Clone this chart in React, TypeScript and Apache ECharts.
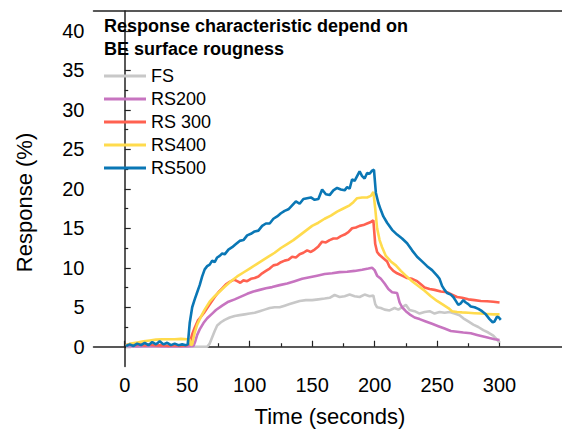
import React, { useEffect, useRef } from "react";
import * as echarts from "echarts";

type Pt = [number, number];

const seriesNames = ["FS", "RS200", "RS 300", "RS400", "RS500"];
const seriesColors = ["#c8c8c8", "#c774c0", "#ff6150", "#ffdb4d", "#0a77b5"];

const xMajorTicks = [0, 50, 100, 150, 200, 250, 300];
const xMinorTicks = [25, 75, 125, 175, 225, 275];
const yMajorTicks = [0, 5, 10, 15, 20, 25, 30, 35, 40];
const yMinorTicks = [2.5, 7.5, 12.5, 17.5, 22.5, 27.5, 32.5, 37.5];

const fsData: Pt[] = [
  [1, 0], [20, 0], [40, 0], [58, 0], [62, 0], [66, 0], [68, 0.4], [70, 1.2], [72, 2.0], [74, 2.7],
  [77, 3.1], [80, 3.4], [84, 3.7], [88, 3.9], [92, 4.0], [96, 4.1], [100, 4.2], [104, 4.3],
  [108, 4.5], [112, 4.7], [116, 4.9], [120, 5.0], [124, 5.0], [128, 5.2], [132, 5.4], [136, 5.6],
  [140, 5.8], [145, 5.9], [150, 5.9], [155, 6.0], [160, 6.1], [164, 6.2], [168, 6.55], [172, 6.3],
  [176, 6.4], [180, 6.6], [184, 6.4], [188, 6.3], [192, 6.6], [196, 6.4], [199, 6.5], [200.5, 5.4],
  [202, 5.0], [205, 4.9], [208, 4.7], [212, 4.6], [216, 4.9], [219, 4.7], [222, 5.0], [225, 5.3],
  [228, 4.65], [232, 4.5], [236, 4.2], [240, 4.4], [244, 4.5], [248, 4.2], [252, 4.4], [256, 4.3],
  [260, 4.4], [264, 4.2], [268, 4.0], [271, 3.6], [275, 3.2], [279, 2.8], [283, 2.5], [287, 2.1],
  [291, 1.8], [295, 1.4], [298, 0.9], [300, 0.5],
];

const rs200Data: Pt[] = [
  [1, 0.1], [10, 0.05], [20, 0.1], [30, 0.05], [40, 0.05], [50, 0.05], [55, 0.1], [56.5, 0.7],
  [58, 1.5], [60, 2.2], [63, 3.0], [66, 3.6], [70, 4.2], [73, 4.65], [78, 5.2], [83, 5.7], [88, 6.0],
  [93, 6.35], [98, 6.7], [103, 7.0], [108, 7.2], [113, 7.4], [118, 7.55], [124, 7.8], [130, 8.0],
  [136, 8.3], [142, 8.6], [148, 8.8], [154, 9.0], [160, 9.2], [166, 9.3], [172, 9.45], [178, 9.5],
  [184, 9.6], [190, 9.75], [195, 9.9], [198, 10.0], [200, 9.7], [202, 9.0], [205, 8.6], [208, 8.0],
  [211, 7.3], [214, 6.9], [218, 6.8], [220, 5.6], [222, 5.0], [225, 4.5], [228, 4.1], [232, 3.7],
  [236, 3.5], [241, 3.2], [246, 2.9], [251, 2.6], [256, 2.3], [261, 2.0], [266, 1.9], [271, 1.8],
  [277, 1.7], [282, 1.5], [287, 1.3], [292, 1.1], [296, 0.95], [300, 0.85],
];

const rs300Data: Pt[] = [
  [1, 0.2], [4, 0.35], [8, 0.2], [12, 0.3], [16, 0.15], [20, 0.3], [25, 0.15], [30, 0.2], [35, 0.1],
  [40, 0.2], [45, 0.1], [50, 0.2], [52, 0.4], [54, 1.6], [56, 2.4], [58.5, 3.3], [61, 3.8],
  [63.5, 4.3], [66, 4.9], [69, 5.6], [72, 6.3], [75, 6.9], [78, 7.4], [81, 7.9], [84, 8.2],
  [87.5, 8.5], [90, 8.3], [92.5, 8.1], [95, 8.4], [98, 8.3], [101, 8.6], [104, 8.7], [107, 8.9],
  [110, 9.3], [113, 9.6], [116, 9.9], [119, 10.3], [122, 10.4], [125, 10.7], [128, 10.9], [131, 11.0],
  [134, 11.4], [137, 11.3], [140, 11.7], [143, 11.9], [146, 12.2], [149, 12.0], [152, 12.3],
  [155, 12.7], [158, 13.3], [161, 13.2], [164, 13.5], [167, 13.7], [170, 13.7], [173, 14.0],
  [176, 14.2], [179, 14.5], [182, 15.0], [185, 15.1], [188, 15.3], [191, 15.4], [194, 15.6],
  [197, 15.8], [199, 16.0], [200.5, 13.0], [202, 12.0], [204, 11.6], [207, 11.2], [210, 10.8],
  [212, 10.1], [215, 9.6], [218, 9.3], [222, 9.0], [226, 8.7], [230, 8.6], [234, 8.3], [237, 7.9],
  [240, 7.5], [244, 7.3], [248, 7.2], [253, 7.0], [258, 6.9], [262, 6.6], [266, 6.3], [270, 6.2],
  [275, 6.0], [280, 5.9], [285, 5.8], [290, 5.75], [295, 5.7], [300, 5.6],
];

const rs400Data: Pt[] = [
  [1, 0.2], [5, 0.4], [10, 0.55], [15, 0.7], [20, 0.8], [25, 0.9], [30, 0.95], [35, 0.95],
  [40, 0.95], [45, 1.0], [50, 0.95], [52, 0.9], [53, 0.2], [54, 0.3], [56, 1.8], [58, 2.8],
  [61, 3.8], [64, 4.7], [68, 5.7], [72, 6.4], [76, 7.0], [80, 7.6], [85, 8.3], [90, 8.9], [95, 9.4],
  [100, 9.9], [105, 10.4], [110, 10.9], [115, 11.4], [120, 11.9], [125, 12.5], [130, 13.0],
  [135, 13.5], [140, 14.1], [145, 14.7], [150, 15.3], [155, 15.7], [160, 16.2], [165, 16.6],
  [170, 17.1], [175, 17.5], [180, 17.9], [183, 18.3], [186, 18.8], [190, 18.9], [194, 18.9],
  [197, 19.1], [199, 19.6], [200.5, 17.5], [202, 15.0], [204, 13.5], [206, 12.6], [209, 11.5],
  [213, 10.8], [217, 10.3], [221, 9.6], [225, 9.0], [230, 8.3], [235, 7.7], [240, 7.1], [245, 6.4],
  [250, 5.8], [255, 5.3], [259, 4.9], [262, 4.5], [266, 4.4], [270, 4.35], [275, 4.3], [280, 4.25],
  [285, 4.2], [290, 4.15], [295, 4.1], [300, 4.1],
];

const rs500Data: Pt[] = [
  [1, 0.1], [4, 0.3], [7, 0.1], [10, 0.4], [13, 0.2], [16, 0.5], [19, 0.2], [22, 0.6], [25, 0.3],
  [28, 0.7], [31, 0.3], [34, 0.5], [37, 0.2], [40, 0.4], [43, 0.2], [46, 0.3], [49, 0.2],
  [50.5, 0.3], [52, 3.0], [54, 5.0], [56, 6.0], [58, 6.9], [60, 7.8], [62, 8.9], [64, 9.8],
  [66, 10.2], [68, 10.4], [70, 10.9], [72, 10.7], [74, 11.3], [76, 11.5], [78, 11.8], [80, 11.7],
  [83, 12.3], [86, 12.6], [89, 13.0], [92, 13.4], [95, 13.5], [98, 14.1], [101, 14.3], [104, 14.6],
  [107, 14.7], [110, 15.3], [113, 15.6], [116, 15.6], [119, 16.2], [122, 16.5], [125, 16.9],
  [128, 17.2], [131, 17.4], [134, 17.9], [137, 18.4], [140, 18.1], [143, 18.7], [146, 18.8],
  [149, 18.9], [152, 18.6], [155, 18.7], [158, 19.9], [161, 19.3], [164, 19.2], [167, 19.8],
  [170, 20.1], [173, 19.9], [176, 19.8], [178, 20.2], [180, 20.0], [182, 21.2], [184, 21.0],
  [186, 21.6], [188, 22.2], [190, 21.6], [192, 21.3], [194, 22.0], [196, 21.9], [198, 22.3],
  [199.5, 22.4], [201, 19.5], [203, 18.2], [205, 17.3], [207, 16.5], [210, 15.7], [214, 14.8],
  [218, 14.2], [222, 13.7], [226, 13.1], [230, 12.2], [234, 11.4], [238, 10.8], [242, 10.2],
  [246, 9.7], [250, 9.0], [252, 8.6], [254, 7.7], [256, 7.2], [258, 6.8], [261, 6.6], [263, 6.3],
  [265, 5.8], [267, 5.3], [269, 5.5], [271, 5.9], [273, 5.6], [275, 5.4], [277, 5.1], [280, 5.0],
  [283, 4.8], [286, 4.5], [289, 4.1], [292, 3.5], [294.5, 3.1], [296, 3.2], [298, 3.8],
  [299.5, 3.7], [301, 3.4],
];

const allData = [fsData, rs200Data, rs300Data, rs400Data, rs500Data];

const FONT = "'Liberation Sans', Arial, sans-serif";

export default function App() {
  const ref = useRef<HTMLDivElement>(null);

  useEffect(() => {
    if (!ref.current) return;
    const chart = echarts.init(ref.current, null, { renderer: "svg" });
    const axisLine = { show: true, lineStyle: { color: "#222", width: 1.5 } };
    const xBase = { type: "value", min: -25, max: 350, splitLine: { show: false } };
    const yBase = { type: "value", min: -2.5, max: 42.5, splitLine: { show: false } };
    chart.setOption({
      animation: false,
      backgroundColor: "#fff",
      textStyle: { fontFamily: FONT },
      title: {
        text: "Response characteristic depend on\nBE surface rougness",
        left: 104,
        top: 14,
        padding: 0,
        textStyle: { fontSize: 18, fontWeight: "bold", lineHeight: 23, color: "#000", fontFamily: FONT },
      },
      legend: {
        orient: "vertical",
        left: 104,
        top: 67,
        icon: "rect",
        itemWidth: 42,
        itemHeight: 3,
        itemGap: 5,
        padding: 0,
        data: seriesNames,
        textStyle: { fontSize: 18, color: "#000", fontFamily: FONT, lineHeight: 18 },
      },
      grid: { left: 93.5, right: -2, top: 11, bottom: 63.5, containLabel: false },
      xAxis: [
        {
          ...xBase,
          position: "bottom",
          axisLine,
          axisTick: { show: true, inside: true, length: 6, customValues: xMajorTicks, lineStyle: { color: "#222", width: 1.2 } },
          axisLabel: { show: true, customValues: xMajorTicks, fontSize: 20, color: "#000", margin: 8, fontFamily: FONT },
        },
        {
          ...xBase,
          position: "bottom",
          axisLine: { show: false },
          axisTick: { show: true, inside: true, length: 3.5, customValues: xMinorTicks, lineStyle: { color: "#222", width: 1.2 } },
          axisLabel: { show: false },
        },
        {
          ...xBase,
          position: "top",
          axisLine,
          axisTick: { show: false },
          axisLabel: { show: false },
        },
      ],
      yAxis: [
        {
          ...yBase,
          position: "left",
          axisLine,
          axisTick: { show: true, inside: true, length: 6, customValues: yMajorTicks, lineStyle: { color: "#222", width: 1.2 } },
          axisLabel: { show: true, customValues: yMajorTicks, fontSize: 20, color: "#000", margin: 9, fontFamily: FONT },
        },
        {
          ...yBase,
          position: "left",
          axisLine: { show: false },
          axisTick: { show: true, inside: true, length: 3.5, customValues: yMinorTicks, lineStyle: { color: "#222", width: 1.2 } },
          axisLabel: { show: false },
        },
      ],
      graphic: [
        {
          type: "text",
          x: 24,
          y: 202.5,
          rotation: Math.PI / 2,
          style: {
            text: "Response (%)",
            fontSize: 22,
            fontFamily: FONT,
            fill: "#000",
            align: "center",
            verticalAlign: "middle",
          },
        },
        {
          type: "text",
          x: 330,
          y: 416,
          style: {
            text: "Time (seconds)",
            fontSize: 22,
            fontFamily: FONT,
            fill: "#000",
            align: "center",
            verticalAlign: "middle",
          },
        },
      ],
      series: seriesNames.map((name, i) => ({
        name,
        type: "line",
        xAxisIndex: 0,
        yAxisIndex: 0,
        data: allData[i],
        symbol: "none",
        showSymbol: false,
        smooth: false,
        color: seriesColors[i],
        lineStyle: { color: seriesColors[i], width: 2.6 },
        itemStyle: { color: seriesColors[i] },
        z: 2 + i,
      })),
    });
    return () => chart.dispose();
  }, []);

  return (
    <div
      ref={ref}
      style={{ position: "absolute", left: 0, top: 0, width: 562, height: 430, background: "#fff" }}
    />
  );
}
